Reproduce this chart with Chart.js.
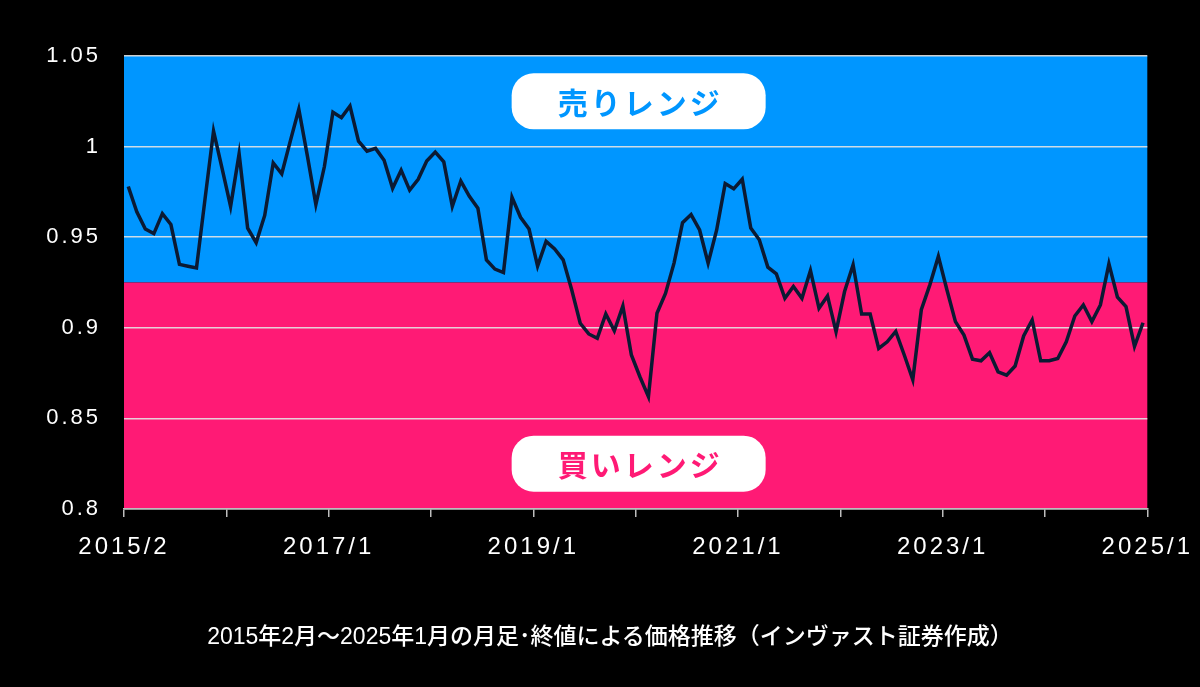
<!DOCTYPE html>
<html lang="ja">
<head>
<meta charset="utf-8">
<title>価格推移</title>
<script src="https://cdn.jsdelivr.net/npm/chart.js@4/dist/chart.umd.min.js"></script>
<style>
  html, body { margin: 0; background: #000; }
  #wrap { position: relative; width: 1200px; height: 687px; }
  #note {
    position: absolute; left: 0; top: 617px; width: 1200px; box-sizing: border-box;
    padding-left: 20px; text-align: center; line-height: 30px;
    color: #fff; font: 500 23px "Liberation Sans", "Noto Sans CJK JP", sans-serif;
    white-space: nowrap;
  }
</style>
</head>
<body>
<div id="wrap">
  <canvas id="chart" width="1200" height="687"></canvas>
  <div id="note"></div>
</div>
<script>
// 月足終値 2015/2 〜 2025/1（120本）
const closes = [
  0.978, 0.964, 0.9545, 0.952, 0.963, 0.957, 0.935, 0.934, 0.933, 0.971,
  1.0086, 0.988, 0.967, 0.996, 0.955, 0.947, 0.962, 0.991, 0.985, 1.003,
  1.0206, 0.995, 0.968, 0.989, 1.019, 1.016, 1.0224, 1.003, 0.9975, 0.999,
  0.9925, 0.977, 0.987, 0.976, 0.982, 0.992, 0.997, 0.9916, 0.967, 0.981,
  0.9726, 0.966, 0.9375, 0.9324, 0.9305, 0.972, 0.961, 0.9545, 0.934, 0.9477,
  0.9435, 0.9375, 0.921, 0.9025, 0.8966, 0.8942, 0.9076, 0.8984, 0.912, 0.885,
  0.873, 0.862, 0.908, 0.919, 0.9357, 0.958, 0.9625, 0.954, 0.9357, 0.954,
  0.9796, 0.9767, 0.982, 0.955, 0.9486, 0.9335, 0.9298, 0.9163, 0.9228, 0.9163,
  0.9316, 0.9108, 0.9176, 0.8978, 0.92, 0.9348, 0.9076, 0.9076, 0.8886, 0.8923,
  0.898, 0.885, 0.8713, 0.91, 0.9237, 0.9394, 0.921, 0.9034, 0.896, 0.8827,
  0.8818, 0.8862, 0.8757, 0.8739, 0.8789, 0.8955, 0.9043, 0.8818, 0.8818, 0.8831,
  0.8923, 0.9065, 0.9126, 0.9034, 0.9126, 0.9353, 0.9169, 0.9117, 0.8897, 0.9028,
];

// 年の区切りごとの目盛り（ラベルは2年おき）
const tickLabels = ['2015/2', '', '2017/1', '', '2019/1', '', '2021/1', '', '2023/1', '', '2025/1'];

const rangeSplit = 0.925;
const rangeLabels = ['売りレンジ', '買いレンジ'];
const subtitle = '2015年2月～2025年1月の月足･終値による価格推移（インヴァスト証券作成）';

const COLORS = {
  sell: '#0096ff',
  buy: '#ff1a75',
  line: '#0b1a33',
  grid: 'rgba(228,228,228,0.9)',
  axis: '#bdbdbd',
};
const LATIN = '"Liberation Sans", Arial, sans-serif';

document.getElementById('note').textContent = subtitle;

/** 背景の売り/買いゾーンと、ゾーン名の白いラベル */
const rangeBands = {
  id: 'rangeBands',
  beforeDraw(chart) {
    const { ctx, chartArea: a, scales: { y } } = chart;
    const mid = y.getPixelForValue(rangeSplit);
    ctx.letterSpacing = '0px';
    ctx.save();
    ctx.fillStyle = COLORS.sell;
    ctx.fillRect(a.left, a.top, a.width, mid - a.top);
    ctx.fillStyle = COLORS.buy;
    ctx.fillRect(a.left, mid, a.width, a.bottom - mid);
    ctx.restore();
  },
  afterDatasetsDraw(chart) {
    const { ctx, chartArea: a, scales: { y } } = chart;
    const cx = (a.left + a.right) / 2 + 3;
    [[rangeLabels[0], 1.025, COLORS.sell], [rangeLabels[1], 0.825, COLORS.buy]].forEach(([text, v, color]) => {
      const cy = y.getPixelForValue(v);
      ctx.save();
      ctx.fillStyle = '#fff';
      ctx.beginPath();
      ctx.roundRect(cx - 127, cy - 28, 254, 56, 22);
      ctx.fill();
      ctx.fillStyle = color;
      ctx.font = 'bold 30px "Noto Sans CJK JP", sans-serif';
      ctx.letterSpacing = '3px';
      ctx.textAlign = 'center';
      ctx.textBaseline = 'middle';
      ctx.fillText(text, cx + 1.5, cy + 1);
      ctx.restore();
    });
    // 軸ラベル（ticks.z = 1 でこの後に描画）は字間を広めに
    ctx.letterSpacing = '3px';
  },
};

new Chart(document.getElementById('chart'), {
  type: 'line',
  data: {
    datasets: [{
      data: closes.map((v, i) => ({ x: i, y: v })),
      borderColor: COLORS.line,
      borderWidth: 3.5,
      pointRadius: 0,
      tension: 0,
      fill: false,
    }],
  },
  options: {
    responsive: false,
    animation: false,
    layout: { padding: { top: 56, right: 52, bottom: 118, left: 0 } },
    plugins: {
      legend: { display: false },
      tooltip: { enabled: false },
    },
    scales: {
      x: {
        type: 'linear',
        min: -0.5,
        max: closes.length - 0.5,
        afterBuildTicks: (s) => { s.ticks = tickLabels.map((_, k) => ({ value: -0.5 + k * 12 })); },
        afterFit: (s) => { s.height = 60; },
        grid: { drawOnChartArea: false, color: COLORS.axis, lineWidth: 1.5, tickLength: 8 },
        border: { color: COLORS.axis, width: 1.5 },
        ticks: {
          autoSkip: false,
          maxRotation: 0,
          color: '#fff',
          padding: 16,
          z: 1,
          font: { family: LATIN, size: 24 },
          callback: (v, i) => tickLabels[i],
        },
      },
      y: {
        min: 0.8,
        max: 1.05,
        afterFit: (s) => { s.width = 124; },
        grid: { color: COLORS.grid, lineWidth: 1.5, drawTicks: false },
        border: { display: false },
        ticks: {
          stepSize: 0.05,
          color: '#fff',
          padding: 23,
          z: 1,
          font: { family: LATIN, size: 22 },
          callback: (v) => String(+v.toFixed(2)),
        },
      },
    },
  },
  plugins: [rangeBands],
});
</script>
</body>
</html>
